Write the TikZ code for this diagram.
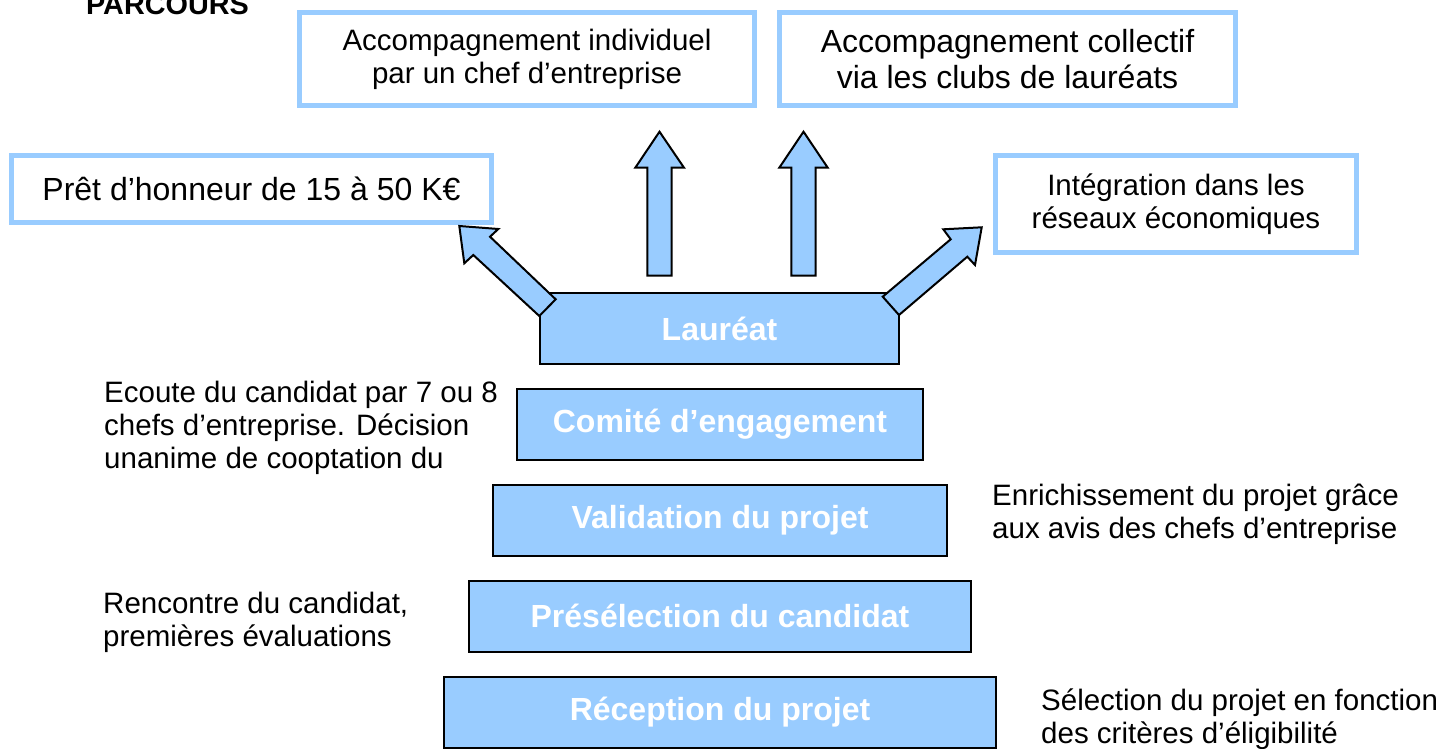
\documentclass[tikz,border=0pt]{standalone}
\usepackage{fontspec}
\setmainfont{Liberation Sans}
\definecolor{skyblue}{HTML}{99CCFF}

\begin{document}
\begin{tikzpicture}[x=1pt,y=-1pt,
    stage/.style={draw=black, line width=2pt, fill=skyblue, text=white,
      font=\bfseries\fontsize{32}{37}\selectfont, minimum height=71pt, inner sep=0pt},
    outcome/.style={draw=skyblue, line width=5pt, fill=white, align=center, inner sep=0pt},
    blockarrow/.style={draw=black, line width=2pt, fill=skyblue, line join=miter},
    note/.style={align=left, anchor=west, inner sep=0pt, font=\fontsize{29.5}{33}\selectfont}]
    \path[use as bounding box, clip] (0,0) rectangle (1437,749);
    \node[font=\bfseries\fontsize{28.8}{33}\selectfont, anchor=base, inner sep=0pt] (titre) at (167.5,15) {PARCOURS};
    \node[stage, minimum width=359pt] (laureat) at (719.5,328.5) {Lauréat};
    \node[stage, minimum width=406pt] (comite) at (720,424) {Comité d’engagement};
    \node[stage, minimum width=454pt] (validation) at (720,520) {Validation du projet};
    \node[stage, minimum width=502pt] (preselection) at (720,616) {Présélection du candidat};
    \node[stage, minimum width=552pt] (reception) at (720,712) {Réception du projet};
    \node[outcome, minimum width=455pt, minimum height=93pt, font=\fontsize{29.5}{33}\selectfont] (individuel) at (527,59) {Accompagnement individuel\\par un chef d’entreprise};
    \node[outcome, minimum width=456pt, minimum height=93pt, font=\fontsize{32}{36}\selectfont] (collectif) at (1007.5,59) {Accompagnement collectif\\via les clubs de lauréats};
    \node[outcome, minimum width=480pt, minimum height=67pt, font=\fontsize{32}{36}\selectfont] (pret) at (251.5,189) {Prêt d’honneur de 15 à 50 K€};
    \node[outcome, minimum width=361pt, minimum height=97pt, font=\fontsize{29.5}{33}\selectfont] (reseaux) at (1176,204) {Intégration dans les\\réseaux économiques};
    \node[note] (ecoute) at (104,428) {Ecoute du candidat par 7 ou 8\\chefs d’entreprise. Décision\\unanime de cooptation du};
    \node[note] (enrichissement) at (992,514) {Enrichissement du projet grâce\\aux avis des chefs d’entreprise};
    \node[note] (rencontre) at (103,622) {Rencontre du candidat,\\premières évaluations};
    \node[note] (selection) at (1041,719) {Sélection du projet en fonction\\des critères d’éligibilité};
    \draw[blockarrow] (647.3,275.7) -- (647.3,167.7) -- (635.3,167.7) -- (659.5,131.7) -- (684,167.7) -- (671.7,167.7) -- (671.7,275.7) -- cycle;
    \draw[blockarrow] (791.3,275.7) -- (791.3,167.7) -- (779.3,167.7) -- (803.5,131.7) -- (827.7,167.7) -- (815.7,167.7) -- (815.7,275.7) -- cycle;
    \draw[blockarrow] (539.3,316) -- (473.3,255) -- (464.3,263.3) -- (459.3,226) -- (498.3,229) -- (490,236.7) -- (555.7,299.3) -- cycle;
    \draw[blockarrow] (899,315) -- (967.3,256.7) -- (975,265) -- (981.7,227.3) -- (943.3,229.3) -- (950.7,239.3) -- (882.7,296.7) -- cycle;
\end{tikzpicture}
\end{document}
